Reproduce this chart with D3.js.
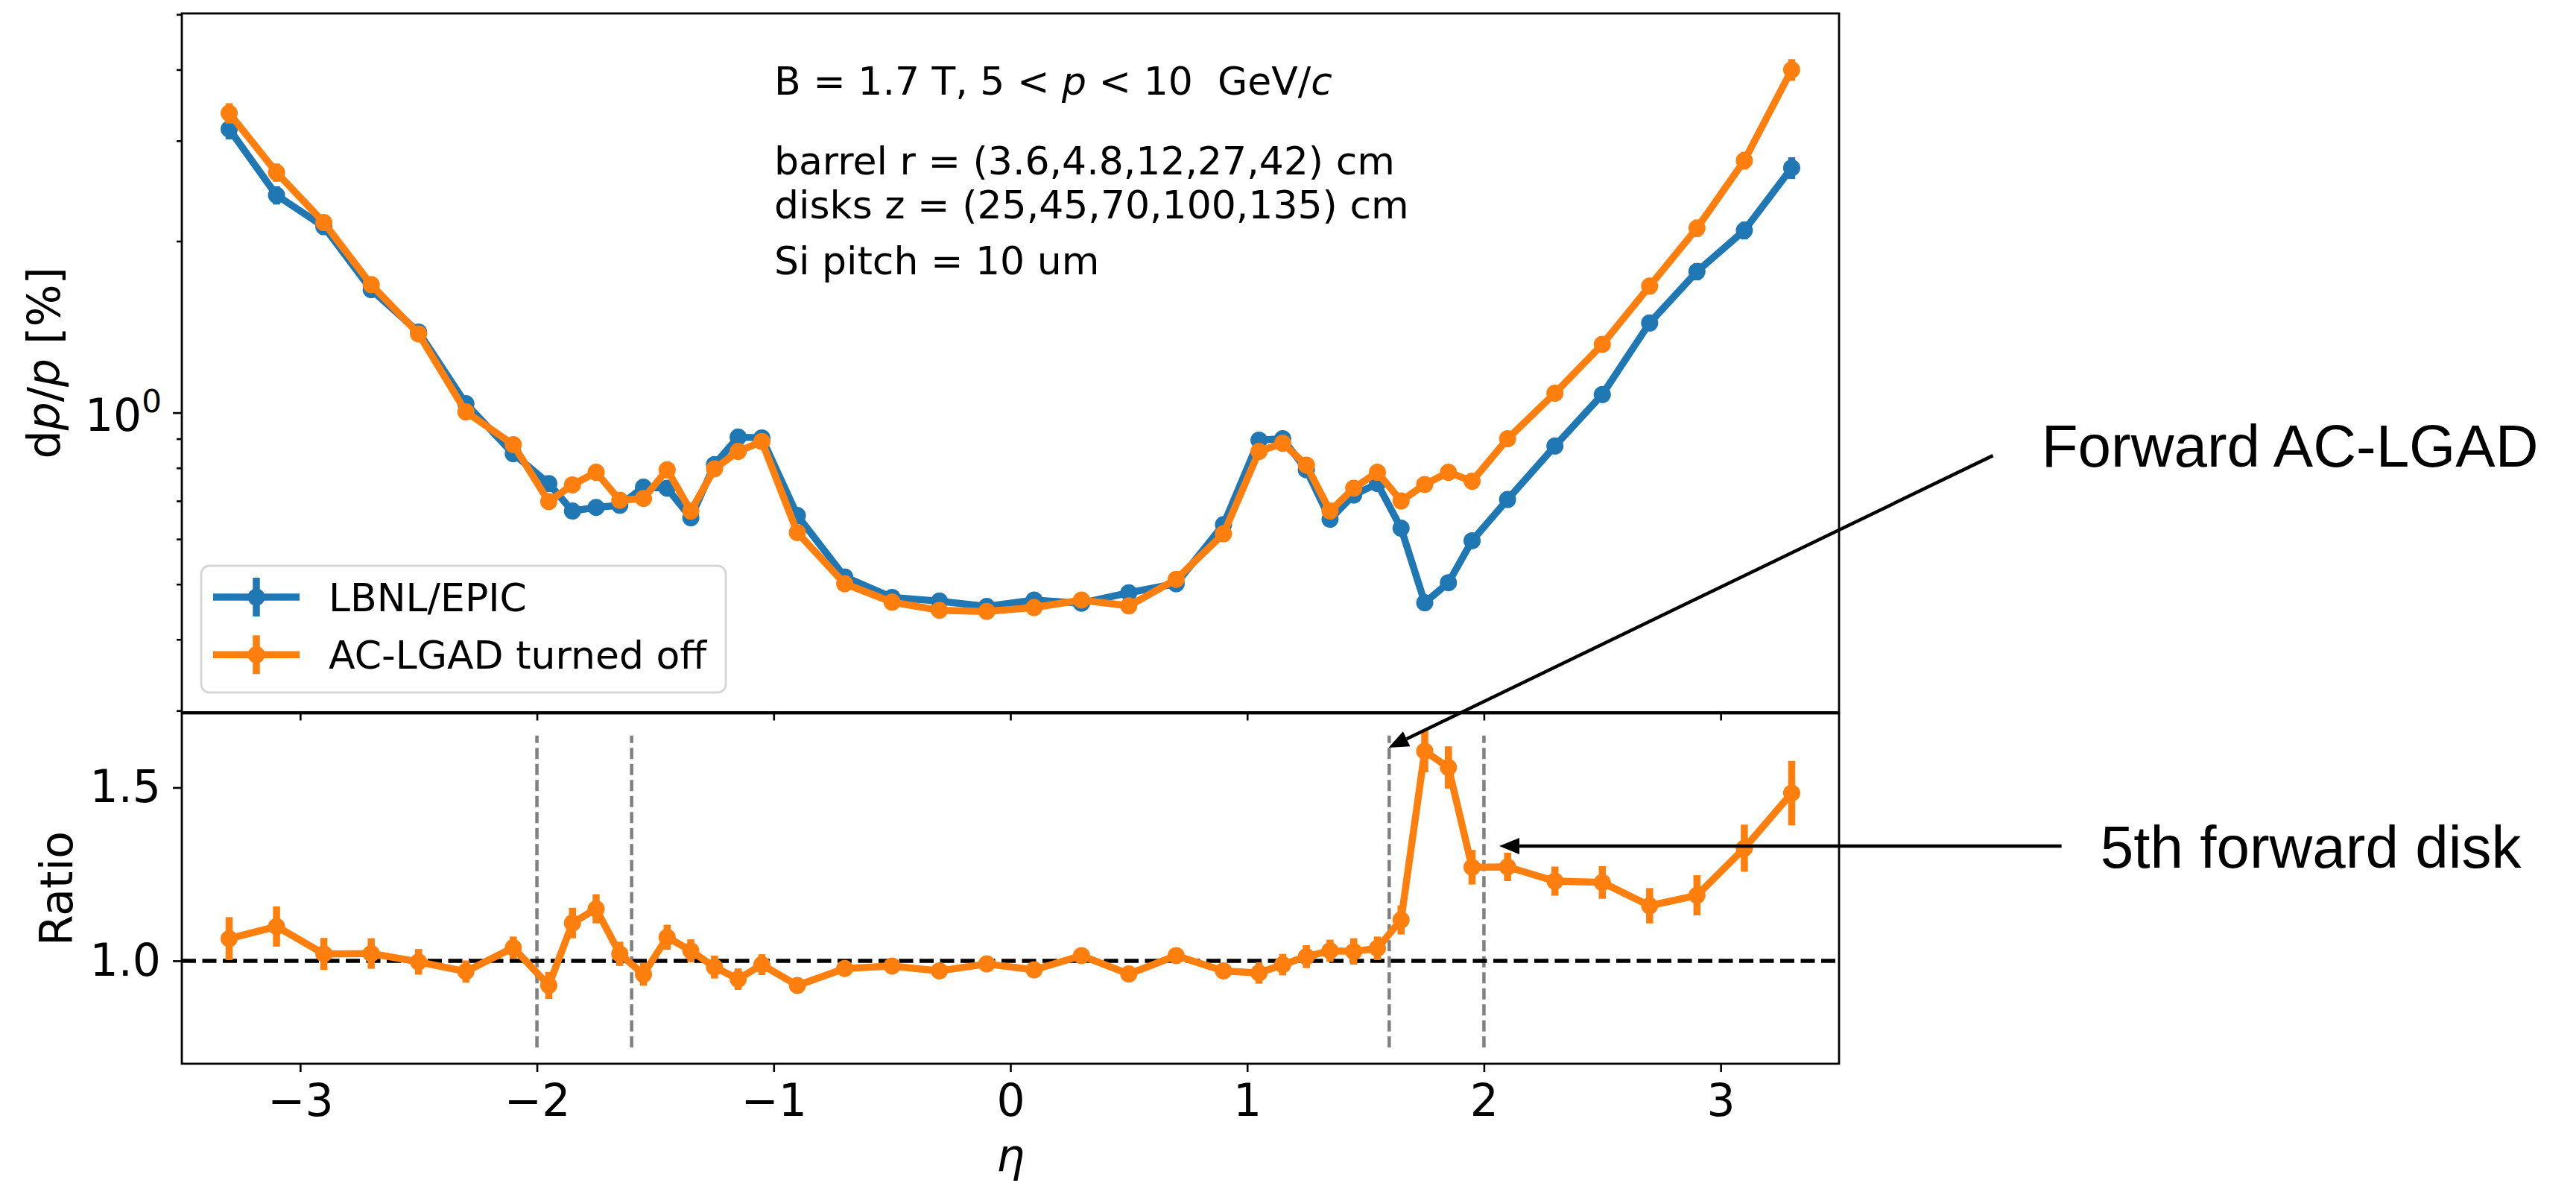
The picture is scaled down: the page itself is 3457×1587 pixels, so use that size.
<!DOCTYPE html>
<html>
<head>
<meta charset="utf-8">
<script src="https://d3js.org/d3.v7.min.js"></script>
<style>
  body { margin: 0; background: #fff; }
  text { font-family: "DejaVu Sans", sans-serif; fill: #000; }
  .note { font-family: "Liberation Sans", Arial, sans-serif; }
</style>
</head>
<body>
<svg id="chart" width="3457" height="1587"></svg>
<script>
// eta bins
var eta = [-3.3, -3.1, -2.9, -2.7, -2.5, -2.3, -2.1, -1.95, -1.85, -1.75, -1.65, -1.55, -1.45, -1.35, -1.25, -1.15, -1.05,
  -0.9, -0.7, -0.5, -0.3, -0.1, 0.1, 0.3, 0.5, 0.7, 0.9,
  1.05, 1.15, 1.25, 1.35, 1.45, 1.55, 1.65, 1.75, 1.85, 1.95, 2.1, 2.3, 2.5, 2.7, 2.9, 3.1, 3.3];

// dp/p [%]
var lbnl = [3.146, 2.408, 2.121, 1.644, 1.385, 1.037, 0.847, 0.751, 0.672, 0.682, 0.688, 0.740, 0.737, 0.654, 0.811, 0.906, 0.903,
  0.660, 0.515, 0.474, 0.467, 0.457, 0.469, 0.463, 0.483, 0.501, 0.636,
  0.895, 0.900, 0.794, 0.650, 0.717, 0.751, 0.627, 0.464, 0.503, 0.596, 0.704, 0.874, 1.076, 1.437, 1.769, 2.089, 2.689];
var acOff = [3.355, 2.640, 2.156, 1.678, 1.375, 1.003, 0.879, 0.698, 0.747, 0.786, 0.702, 0.707, 0.794, 0.672, 0.797, 0.855, 0.890,
  0.616, 0.501, 0.465, 0.450, 0.448, 0.455, 0.469, 0.458, 0.510, 0.613,
  0.855, 0.884, 0.809, 0.672, 0.737, 0.786, 0.700, 0.748, 0.786, 0.758, 0.900, 1.082, 1.318, 1.668, 2.108, 2.770, 3.998];
// relative errors of dp/p (both samples)
var relErr = [0.041, 0.037, 0.031, 0.029, 0.025, 0.023, 0.021, 0.030, 0.028, 0.026, 0.024, 0.023, 0.024, 0.023, 0.023, 0.023, 0.021,
  0.015, 0.015, 0.015, 0.015, 0.015, 0.015, 0.015, 0.015, 0.015, 0.015,
  0.021, 0.021, 0.022, 0.022, 0.026, 0.023, 0.027, 0.027, 0.027, 0.028, 0.022, 0.024, 0.027, 0.031, 0.035, 0.036, 0.044];

// ratio AC-LGAD off / LBNL
var ratio = [1.064, 1.099, 1.020, 1.021, 0.997, 0.969, 1.038, 0.929, 1.109, 1.150, 1.020, 0.961, 1.068, 1.029, 0.982, 0.947, 0.989,
  0.929, 0.978, 0.985, 0.971, 0.991, 0.974, 1.015, 0.962, 1.015, 0.971,
  0.965, 0.989, 1.012, 1.029, 1.027, 1.036, 1.118, 1.605, 1.558, 1.270, 1.271, 1.230, 1.226, 1.159, 1.189, 1.325, 1.484];
var ratioErr = [0.062, 0.058, 0.046, 0.044, 0.037, 0.032, 0.032, 0.039, 0.044, 0.042, 0.035, 0.033, 0.036, 0.033, 0.033, 0.031, 0.030,
  0.020, 0.020, 0.020, 0.020, 0.020, 0.020, 0.020, 0.020, 0.020, 0.020,
  0.031, 0.031, 0.033, 0.032, 0.038, 0.034, 0.042, 0.061, 0.061, 0.050, 0.041, 0.042, 0.047, 0.051, 0.058, 0.068, 0.093];

var etaTicks = [-3, -2, -1, 0, 1, 2, 3];
var ratioTicks = [1.0, 1.5];
var minorTicks = [0.3, 0.4, 0.5, 0.6, 0.7, 0.8, 0.9, 2, 3, 4, 5];
var boundaries = [-2, -1.6, 1.6, 2];

var seriesNames = ["LBNL/EPIC", "AC-LGAD turned off"];
var colors = ["#1f77b4", "#ff7f0e"];

// annotations, in (eta, ratio) coordinates of the lower panel
var notes = [
  {text: "Forward AC-LGAD", tx: 4.355, ty: 2.426, x0: 4.15, y0: 2.458, x1: 1.597, y1: 1.615},
  {text: "5th forward disk", tx: 4.604, ty: 1.269, x0: 4.44, y0: 1.331, x1: 2.065, y1: 1.331}
];

var svg = d3.select("#chart");
svg.append("rect").attr("width", 3457).attr("height", 1587).attr("fill", "#fff");

var left = 244, right = 2468;
var top1 = 18, bot1 = 955.5, top2 = 957, bot2 = 1427;
var lw = 9.5, r = 11.5;

var x = d3.scaleLinear().domain([-3.5, 3.5]).range([left, right]);
var y1 = d3.scaleLog().domain([0.298, 5.02]).range([bot1, top1]);
var y2 = d3.scaleLinear().domain([0.703, 1.714]).range([bot2, top2]);

function styleAxis(g) {
  g.select(".domain").remove();
  g.selectAll(".tick line").attr("stroke", "#000").attr("stroke-width", 2.6);
  g.selectAll(".tick text").attr("font-size", 60).attr("font-family", "DejaVu Sans").attr("fill", "#000");
}

// ---- upper panel ----
var up = svg.append("g");
up.append("g").attr("transform", "translate(0," + bot1 + ")")
  .call(d3.axisBottom(x).tickValues(etaTicks).tickSize(11).tickFormat(""))
  .call(styleAxis);
up.append("g").attr("transform", "translate(" + left + ",0)")
  .call(d3.axisLeft(y1).tickValues(minorTicks).tickSize(7).tickFormat(""))
  .call(styleAxis);
up.append("g").attr("transform", "translate(" + left + ",0)")
  .call(d3.axisLeft(y1).tickValues([1]).tickSize(12).tickFormat(""))
  .call(styleAxis);
var lab = up.append("text").attr("x", 217).attr("y", y1(1) + 24).attr("text-anchor", "end").attr("font-size", 60);
lab.append("tspan").text("10");
lab.append("tspan").attr("dy", -25).attr("font-size", 42).text("0");

[lbnl, acOff].forEach(function(vals, k) {
  var g = up.append("g");
  g.selectAll("line.err").data(eta).enter().append("line")
    .attr("x1", function(d) { return x(d); }).attr("x2", function(d) { return x(d); })
    .attr("y1", function(d, i) { return y1(vals[i] * (1 - relErr[i])); })
    .attr("y2", function(d, i) { return y1(vals[i] * (1 + relErr[i])); })
    .attr("stroke", colors[k]).attr("stroke-width", lw);
  g.append("path")
    .attr("d", d3.line().x(function(d) { return x(d); }).y(function(d, i) { return y1(vals[i]); })(eta))
    .attr("fill", "none").attr("stroke", colors[k]).attr("stroke-width", lw)
    .attr("stroke-linejoin", "round").attr("stroke-linecap", "square");
  g.selectAll("circle").data(eta).enter().append("circle")
    .attr("cx", function(d) { return x(d); })
    .attr("cy", function(d, i) { return y1(vals[i]); })
    .attr("r", r).attr("fill", colors[k]);
});

// text block
var info = up.append("g").attr("font-size", 52);
var t0 = info.append("text").attr("x", 1039).attr("y", 127).style("white-space", "pre");
t0.append("tspan").text("B = 1.7 T, 5 < ");
t0.append("tspan").attr("font-style", "italic").text("p");
t0.append("tspan").text(" < 10  GeV/");
t0.append("tspan").attr("font-style", "italic").text("c");
info.append("text").attr("x", 1039).attr("y", 234).text("barrel r = (3.6,4.8,12,27,42) cm");
info.append("text").attr("x", 1039).attr("y", 293).text("disks z = (25,45,70,100,135) cm");
info.append("text").attr("x", 1039).attr("y", 368).text("Si pitch = 10 um");

// legend
var leg = up.append("g");
leg.append("rect").attr("x", 270).attr("y", 759).attr("width", 704).attr("height", 170)
  .attr("rx", 11).attr("fill", "#fff").attr("fill-opacity", 0.8)
  .attr("stroke", "#d6d6d6").attr("stroke-width", 2.8);
seriesNames.forEach(function(name, k) {
  var cy = 801 + k * 77.3;
  leg.append("line").attr("x1", 286).attr("x2", 402).attr("y1", cy).attr("y2", cy)
    .attr("stroke", colors[k]).attr("stroke-width", lw);
  leg.append("line").attr("x1", 344).attr("x2", 344).attr("y1", cy - 26).attr("y2", cy + 26)
    .attr("stroke", colors[k]).attr("stroke-width", lw);
  leg.append("circle").attr("cx", 344).attr("cy", cy).attr("r", r).attr("fill", colors[k]);
  leg.append("text").attr("x", 441).attr("y", cy + 18.5).attr("font-size", 52).text(name);
});

up.append("rect").attr("x", left).attr("y", top1).attr("width", right - left).attr("height", bot1 - top1)
  .attr("fill", "none").attr("stroke", "#000").attr("stroke-width", 2.8);

// y label
var yl = up.append("text").attr("transform", "translate(80," + (top1 + bot1) / 2 + ") rotate(-90)")
  .attr("text-anchor", "middle").attr("font-size", 60);
yl.append("tspan").text("d");
yl.append("tspan").attr("font-style", "italic").text("p");
yl.append("tspan").text("/");
yl.append("tspan").attr("font-style", "italic").text("p");
yl.append("tspan").text(" [%]");

// ---- lower panel ----
var lo = svg.append("g");
lo.append("g").attr("transform", "translate(0," + bot2 + ")")
  .call(d3.axisBottom(x).tickValues(etaTicks).tickSize(11).tickPadding(16).tickFormat(d3.format("d")))
  .call(styleAxis);
lo.append("g").attr("transform", "translate(" + left + ",0)")
  .call(d3.axisLeft(y2).tickValues(ratioTicks).tickSize(12).tickPadding(16).tickFormat(d3.format(".1f")))
  .call(styleAxis);

lo.selectAll("line.vb").data(boundaries).enter().append("line")
  .attr("x1", function(d) { return x(d); }).attr("x2", function(d) { return x(d); })
  .attr("y1", y2(0.75)).attr("y2", y2(1.65))
  .attr("stroke", "#808080").attr("stroke-width", 4.5).attr("stroke-dasharray", "15,6.5");

lo.append("line").attr("x1", left).attr("x2", right).attr("y1", y2(1)).attr("y2", y2(1))
  .attr("stroke", "#000").attr("stroke-width", 5.5).attr("stroke-dasharray", "19,8.5");

var rg = lo.append("g");
rg.selectAll("line.err").data(eta).enter().append("line")
  .attr("x1", function(d) { return x(d); }).attr("x2", function(d) { return x(d); })
  .attr("y1", function(d, i) { return y2(ratio[i] - ratioErr[i]); })
  .attr("y2", function(d, i) { return y2(ratio[i] + ratioErr[i]); })
  .attr("stroke", colors[1]).attr("stroke-width", lw);
rg.append("path")
  .attr("d", d3.line().x(function(d) { return x(d); }).y(function(d, i) { return y2(ratio[i]); })(eta))
  .attr("fill", "none").attr("stroke", colors[1]).attr("stroke-width", lw)
  .attr("stroke-linejoin", "round").attr("stroke-linecap", "square");
rg.selectAll("circle").data(eta).enter().append("circle")
  .attr("cx", function(d) { return x(d); })
  .attr("cy", function(d, i) { return y2(ratio[i]); })
  .attr("r", r).attr("fill", colors[1]);

lo.append("rect").attr("x", left).attr("y", top2).attr("width", right - left).attr("height", bot2 - top2)
  .attr("fill", "none").attr("stroke", "#000").attr("stroke-width", 2.8);

lo.append("text").attr("transform", "translate(97," + (top2 + bot2) / 2 + ") rotate(-90)")
  .attr("text-anchor", "middle").attr("font-size", 60).text("Ratio");
lo.append("text").attr("x", x(0)).attr("y", 1571).attr("text-anchor", "middle")
  .attr("font-size", 60).attr("font-style", "italic").text("η");

// ---- annotations ----
var an = svg.append("g");
notes.forEach(function(n) {
  var ax0 = x(n.x0), ay0 = y2(n.y0), ax1 = x(n.x1), ay1 = y2(n.y1);
  var ang = Math.atan2(ay1 - ay0, ax1 - ax0);
  var hl = 27, hw = 11;
  var bx = ax1 - hl * Math.cos(ang), by = ay1 - hl * Math.sin(ang);
  an.append("line").attr("x1", ax0).attr("y1", ay0).attr("x2", bx).attr("y2", by)
    .attr("stroke", "#000").attr("stroke-width", 4.5);
  var pts = [[ax1, ay1],
    [bx + hw * Math.sin(ang), by - hw * Math.cos(ang)],
    [bx - hw * Math.sin(ang), by + hw * Math.cos(ang)]];
  an.append("polygon").attr("points", pts.map(function(p) { return p.join(","); }).join(" ")).attr("fill", "#000");
  an.append("text").attr("class", "note").attr("x", x(n.tx)).attr("y", y2(n.ty))
    .attr("font-size", 80).text(n.text);
});
</script>
</body>
</html>
